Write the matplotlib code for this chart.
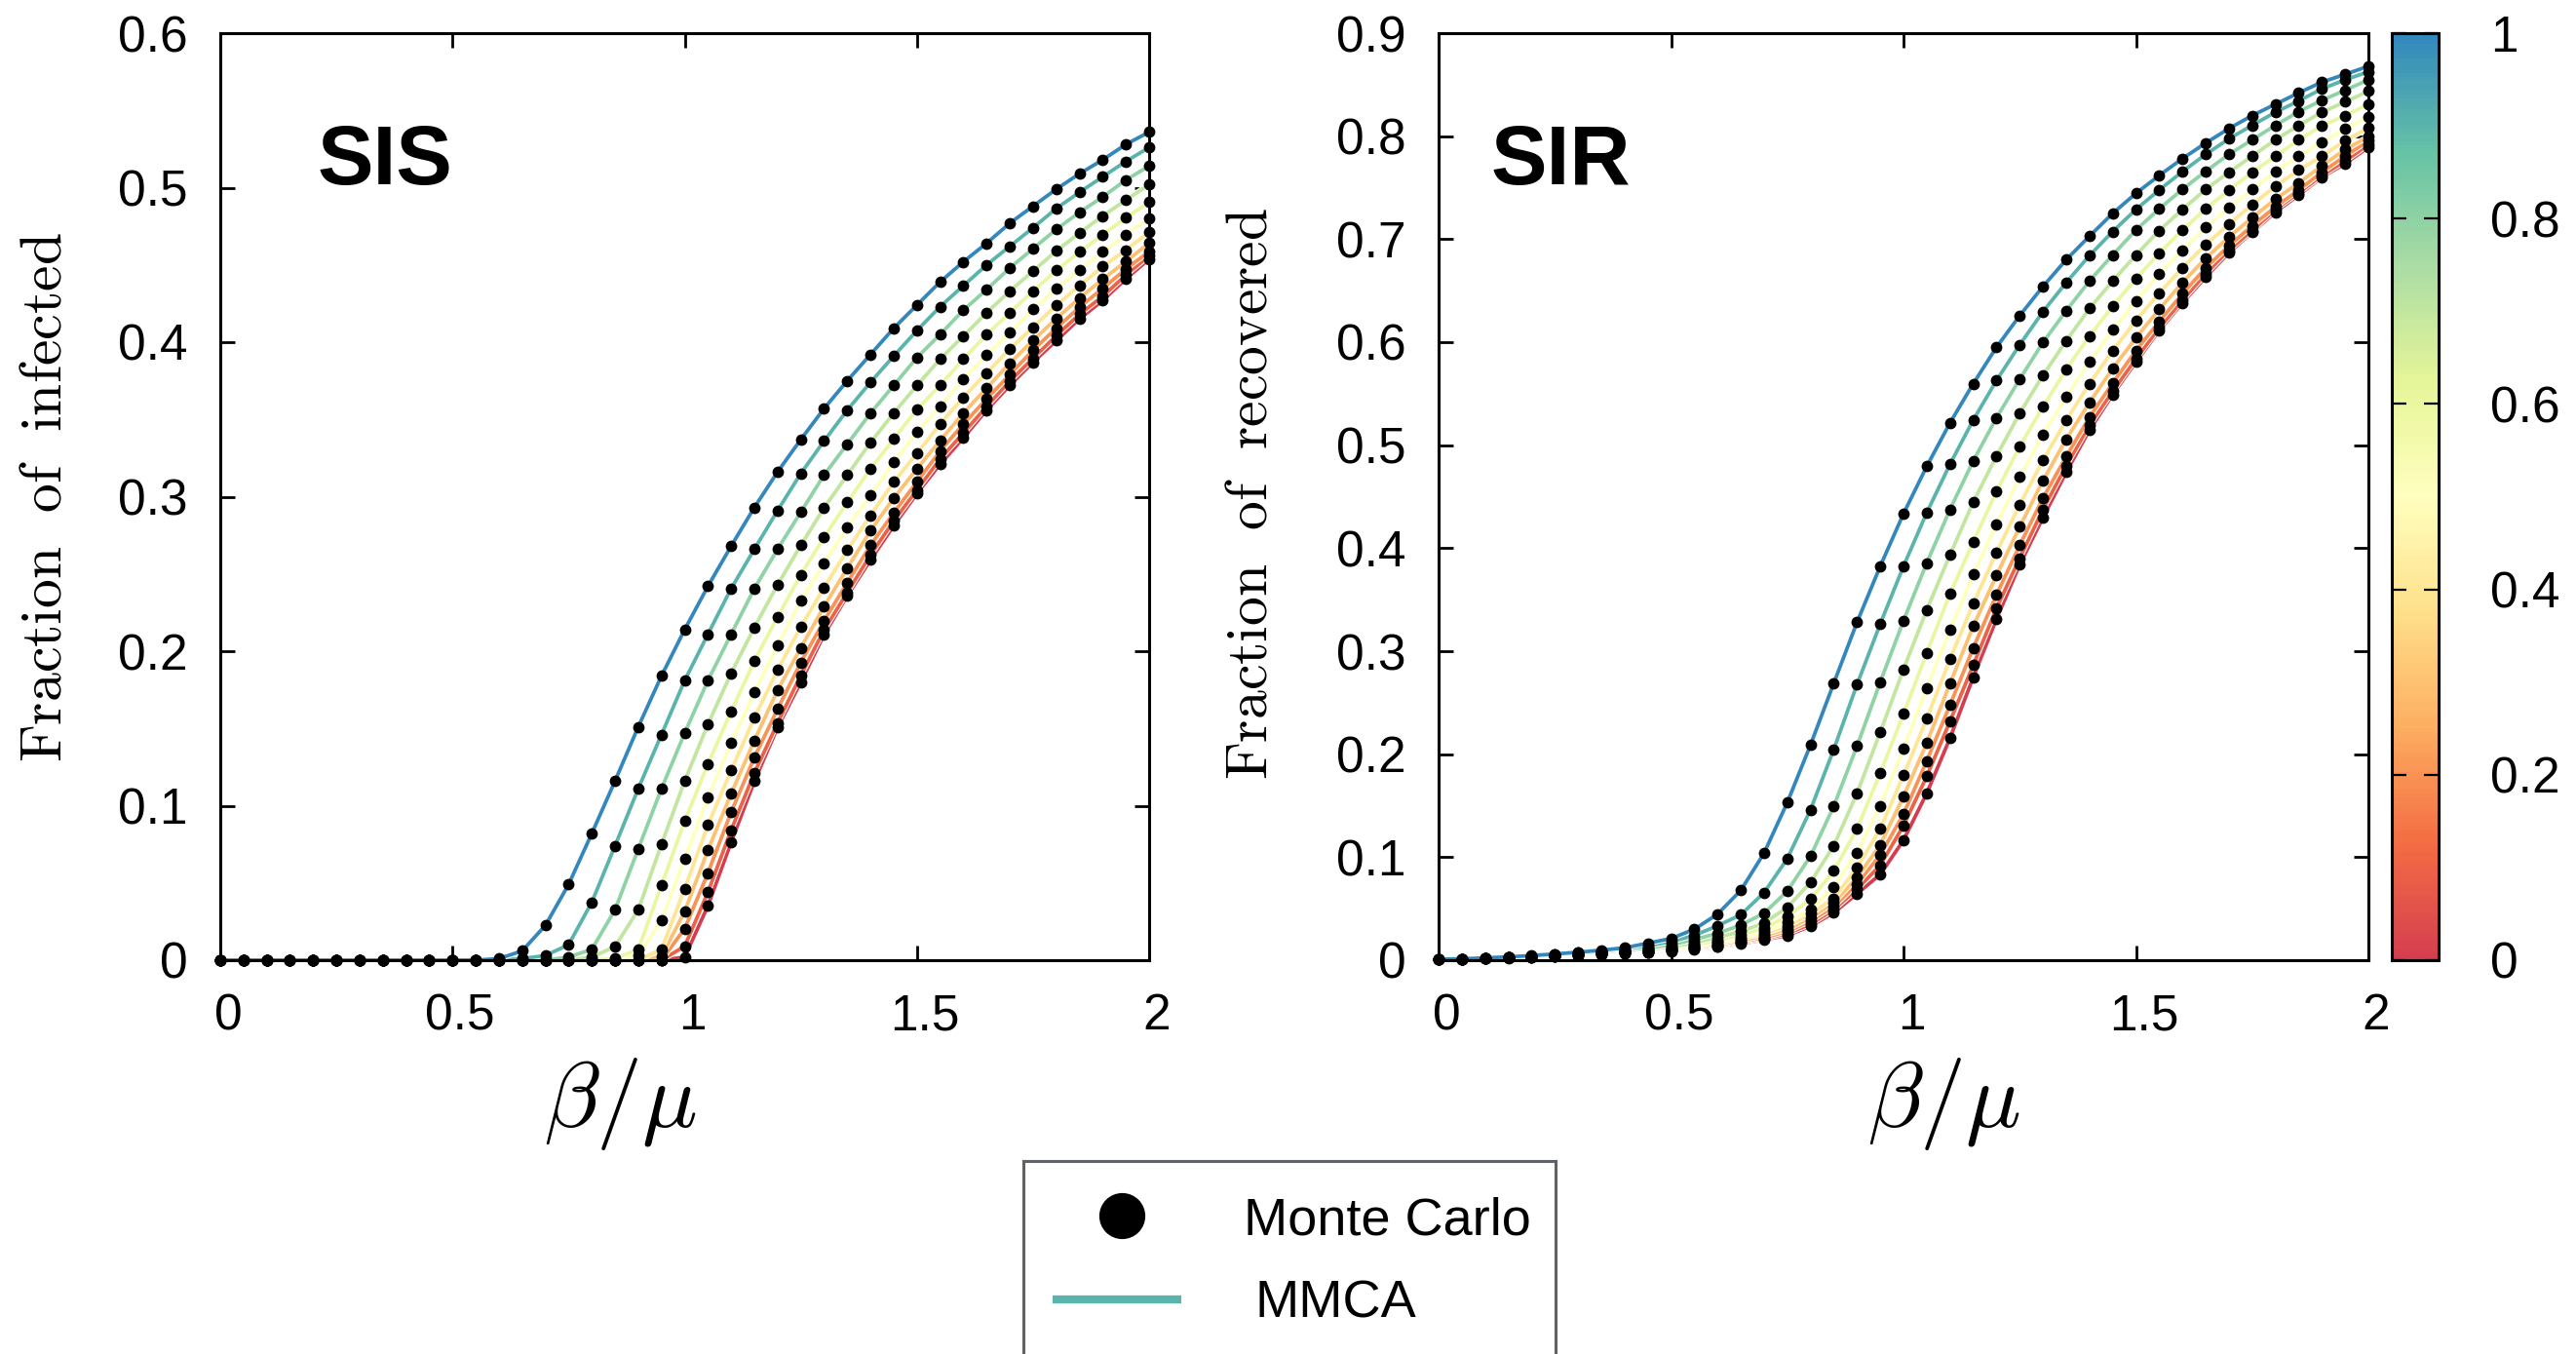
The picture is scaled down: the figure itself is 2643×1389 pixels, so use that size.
import matplotlib
matplotlib.use("Agg")
import matplotlib.pyplot as plt
import numpy as np
from matplotlib import patheffects
from matplotlib.colors import LinearSegmentedColormap, Normalize
from matplotlib.cm import ScalarMappable
from matplotlib.ticker import FormatStrFormatter
from matplotlib.transforms import ScaledTranslation


# Control parameter of every curve (colour scale)
P_VALUES = [0.0, 0.1, 0.2, 0.3, 0.4, 0.5, 0.6, 0.7, 0.8, 0.9, 1.0]

# beta / mu grid
BETA = [0.00, 0.05, 0.10, 0.15, 0.20, 0.25, 0.30, 0.35, 0.40, 0.45,
        0.50, 0.55, 0.60, 0.65, 0.70, 0.75, 0.80, 0.85, 0.90, 0.95,
        1.00, 1.05, 1.10, 1.15, 1.20, 1.25, 1.30, 1.35, 1.40, 1.45,
        1.50, 1.55, 1.60, 1.65, 1.70, 1.75, 1.80, 1.85, 1.90, 1.95, 2.00]

# --- SIS: fraction of infected --- #
SIS_00 = [0] * 20 + [0.002, 0.0352, 0.0764, 0.1158, 0.1506, 0.180, 0.2106, 0.2358, 0.259, 0.2811,
                     0.302, 0.321, 0.338, 0.356, 0.372, 0.387, 0.401, 0.415, 0.427, 0.441, 0.4537]
SIS_01 = [0] * 20 + [0.009, 0.044, 0.0842, 0.1211, 0.1535, 0.1843, 0.2137, 0.238, 0.2622, 0.2843,
                     0.3043, 0.3245, 0.3411, 0.3584, 0.3748, 0.3895, 0.4042, 0.418, 0.4296, 0.4435, 0.4559]
SIS_02 = [0] * 20 + [0.0204, 0.0564, 0.0958, 0.1312, 0.1625, 0.1927, 0.2196, 0.2443, 0.2685, 0.2895,
                     0.3095, 0.3296, 0.347, 0.3632, 0.379, 0.3948, 0.409, 0.4226, 0.4348, 0.4473, 0.4586]
SIS_03 = [0] * 19 + [0.0023, 0.0316, 0.0712, 0.1078, 0.1421, 0.1748, 0.2021, 0.2289, 0.2537, 0.278, 0.299,
                     0.318, 0.3363, 0.3541, 0.3702, 0.3864, 0.4011, 0.4152, 0.4285, 0.4407, 0.4522, 0.4642]
SIS_04 = [0] * 19 + [0.007, 0.0463, 0.0874, 0.1228, 0.1569, 0.1878, 0.2158, 0.2411, 0.2653, 0.2879, 0.3095,
                     0.328, 0.347, 0.3643, 0.3801, 0.3955, 0.4096, 0.4238, 0.4365, 0.4489, 0.4596, 0.4712]
SIS_05 = [0] * 18 + [0.003, 0.0257, 0.0657, 0.1053, 0.1404, 0.1733, 0.2037, 0.2327, 0.2569, 0.280, 0.3011,
                     0.3222, 0.3418, 0.3584, 0.3763, 0.3916, 0.4064, 0.4212, 0.4344, 0.447, 0.4584, 0.4695,
                     0.480]
SIS_06 = [0] * 17 + [0.001, 0.007, 0.0484, 0.090, 0.127, 0.161, 0.1937, 0.2222, 0.2495, 0.2737, 0.2963,
                     0.318, 0.3373, 0.3565, 0.3721, 0.389, 0.4049, 0.419, 0.4331, 0.4464, 0.4584, 0.4695,
                     0.4805, 0.4906]
SIS_07 = [0] * 16 + [0.002, 0.0088, 0.0326, 0.075, 0.116, 0.1527, 0.1857, 0.2154, 0.243, 0.2685, 0.2927,
                     0.314, 0.335, 0.354, 0.372, 0.389, 0.404, 0.419, 0.433, 0.446, 0.459, 0.4706, 0.4817,
                     0.492, 0.502]
SIS_08 = [0] * 15 + [0.002, 0.007, 0.0326, 0.072, 0.111, 0.147, 0.181, 0.211, 0.2405, 0.266, 0.290, 0.314,
                     0.334, 0.354, 0.372, 0.390, 0.405, 0.4207, 0.434, 0.448, 0.4605, 0.473, 0.484, 0.494,
                     0.505, 0.514]
SIS_09 = [0] * 13 + [0.001, 0.003, 0.010, 0.0375, 0.074, 0.111, 0.146, 0.181, 0.211, 0.2405, 0.266, 0.291,
                     0.315, 0.336, 0.356, 0.374, 0.391, 0.4075, 0.423, 0.4365, 0.450, 0.462, 0.474, 0.4865,
                     0.497, 0.507, 0.517, 0.526]
SIS_10 = [0] * 12 + [0.001, 0.006, 0.0225, 0.049, 0.082, 0.116, 0.151, 0.184, 0.214, 0.242, 0.268, 0.293,
                     0.316, 0.337, 0.357, 0.375, 0.392, 0.409, 0.424, 0.439, 0.452, 0.464, 0.477, 0.488,
                     0.499, 0.509, 0.518, 0.528, 0.536]

# --- SIR: fraction of recovered --- #
SIR_00 = [0.001, 0.0010, 0.0016, 0.0023, 0.0030, 0.0037, 0.0046, 0.0055, 0.0065, 0.0072, 0.0085, 0.0105,
          0.013, 0.016, 0.020, 0.024, 0.033, 0.046, 0.0645, 0.0832, 0.1165, 0.162, 0.2155, 0.2747, 0.3312,
          0.384, 0.4297, 0.4738, 0.5146, 0.5492, 0.5807, 0.6113, 0.6381, 0.6633, 0.6869, 0.7067, 0.7263,
          0.7428, 0.7602, 0.7734, 0.7891]
SIR_01 = [0.001, 0.0010, 0.0016, 0.0024, 0.0031, 0.0039, 0.0048, 0.0058, 0.0068, 0.0075, 0.009, 0.011,
          0.0135, 0.017, 0.021, 0.026, 0.035, 0.049, 0.069, 0.0921, 0.1306, 0.1784, 0.2319, 0.2864, 0.3416,
          0.3903, 0.4376, 0.4801, 0.5193, 0.5523, 0.5838, 0.6138, 0.6406, 0.6664, 0.6894, 0.7083, 0.7288,
          0.745, 0.7618, 0.7759, 0.7917]
SIR_02 = [0.001, 0.0010, 0.0017, 0.0024, 0.0032, 0.0040, 0.0050, 0.0060, 0.0071, 0.0080, 0.0095, 0.0115,
          0.014, 0.018, 0.022, 0.028, 0.038, 0.052, 0.074, 0.1022, 0.1417, 0.1935, 0.2477, 0.3031, 0.3547,
          0.4029, 0.4486, 0.4889, 0.5272, 0.5602, 0.5917, 0.6201, 0.6469, 0.6721, 0.6935, 0.713, 0.7313,
          0.7477, 0.765, 0.7806, 0.7955]
SIR_03 = [0.001, 0.0011, 0.0017, 0.0025, 0.0033, 0.0042, 0.0052, 0.0062, 0.0074, 0.0085, 0.010, 0.012,
          0.015, 0.019, 0.024, 0.030, 0.041, 0.056, 0.080, 0.112, 0.1589, 0.2108, 0.2685, 0.3242, 0.3736,
          0.4208, 0.4655, 0.5058, 0.5414, 0.5744, 0.6043, 0.6318, 0.6579, 0.6815, 0.702, 0.7209, 0.7388,
          0.7545, 0.7712, 0.787, 0.7995]
SIR_04 = [0.001, 0.0011, 0.0018, 0.0025, 0.0034, 0.0043, 0.0054, 0.0065, 0.0077, 0.009, 0.0105, 0.013,
          0.016, 0.021, 0.026, 0.033, 0.045, 0.060, 0.0897, 0.1275, 0.1794, 0.2345, 0.2921, 0.3462, 0.3957,
          0.4423, 0.4852, 0.5241, 0.5597, 0.5917, 0.621, 0.6475, 0.6721, 0.6947, 0.7146, 0.7335, 0.7514,
          0.7671, 0.7806, 0.7955, 0.808]
SIR_05 = [0.001, 0.0011, 0.0018, 0.0026, 0.0035, 0.0045, 0.0056, 0.0068, 0.0081, 0.0095, 0.011, 0.014,
          0.018, 0.022, 0.028, 0.037, 0.049, 0.0714, 0.1045, 0.150, 0.2052, 0.2644, 0.3205, 0.3745, 0.4234,
          0.469, 0.510, 0.547, 0.5807, 0.6122, 0.6399, 0.6664, 0.6894, 0.7114, 0.7303, 0.7483, 0.7656,
          0.7806, 0.7942, 0.8068, 0.819]
SIR_06 = [0.001, 0.0011, 0.0019, 0.0027, 0.0036, 0.0047, 0.0059, 0.0072, 0.0086, 0.010, 0.012, 0.015,
          0.019, 0.025, 0.031, 0.0425, 0.0592, 0.0866, 0.1275, 0.1816, 0.2392, 0.2981, 0.3557, 0.406, 0.4549,
          0.4986, 0.5374, 0.5735, 0.6059, 0.6349, 0.6617, 0.6863, 0.7089, 0.7294, 0.7476, 0.765, 0.7806,
          0.7964, 0.81, 0.82, 0.831]
SIR_07 = [0.001, 0.0012, 0.0019, 0.0028, 0.0038, 0.0049, 0.0062, 0.0076, 0.0091, 0.011, 0.013, 0.017,
          0.022, 0.028, 0.036, 0.0513, 0.0755, 0.1111, 0.162, 0.2213, 0.2824, 0.34, 0.3935, 0.4447, 0.4895,
          0.531, 0.5679, 0.6012, 0.6327, 0.6594, 0.6847, 0.7083, 0.7288, 0.7483, 0.765, 0.7806, 0.7964,
          0.8105, 0.8232, 0.8333, 0.8437]
SIR_08 = [0.001, 0.0012, 0.0020, 0.0029, 0.0040, 0.0052, 0.0066, 0.0082, 0.0098, 0.012, 0.015, 0.020,
          0.026, 0.034, 0.0456, 0.067, 0.101, 0.1495, 0.2078, 0.270, 0.3296, 0.3856, 0.4375, 0.4847, 0.5265,
          0.5641, 0.5997, 0.6305, 0.6594, 0.6847, 0.7089, 0.7294, 0.7483, 0.7659, 0.7823, 0.7964, 0.8105,
          0.8238, 0.8348, 0.8446, 0.8547]
SIR_09 = [0.001, 0.0012, 0.0021, 0.0030, 0.0042, 0.0055, 0.0071, 0.0089, 0.011, 0.014, 0.018, 0.024,
          0.0334, 0.0441, 0.0655, 0.0985, 0.146, 0.2046, 0.2676, 0.3265, 0.3825, 0.4344, 0.4815, 0.5244,
          0.5628, 0.5975, 0.6296, 0.6579, 0.684, 0.7074, 0.7288, 0.7477, 0.7656, 0.7823, 0.7974, 0.8105,
          0.8232, 0.8342, 0.8459, 0.8547, 0.8625]
SIR_10 = [0.001, 0.0013, 0.0022, 0.0032, 0.0045, 0.006, 0.0077, 0.0097, 0.012, 0.0165, 0.021, 0.030,
          0.0447, 0.0677, 0.1039, 0.153, 0.209, 0.2688, 0.328, 0.3825, 0.4335, 0.4794, 0.5216, 0.5597,
          0.595, 0.6258, 0.6541, 0.680, 0.7029, 0.725, 0.7445, 0.7618, 0.7782, 0.7933, 0.8074, 0.820,
          0.831, 0.842, 0.8525, 0.860, 0.8679]

SIS_CURVES = [SIS_00, SIS_01, SIS_02, SIS_03, SIS_04, SIS_05, SIS_06, SIS_07, SIS_08, SIS_09, SIS_10]
SIR_CURVES = [SIR_00, SIR_01, SIR_02, SIR_03, SIR_04, SIR_05, SIR_06, SIR_07, SIR_08, SIR_09, SIR_10]

X_TICKS = [0, 0.5, 1, 1.5, 2]
SIS_Y_TICKS = [0, 0.1, 0.2, 0.3, 0.4, 0.5, 0.6]
SIR_Y_TICKS = [0, 0.1, 0.2, 0.3, 0.4, 0.5, 0.6, 0.7, 0.8, 0.9]
CBAR_TICKS = [0, 0.2, 0.4, 0.6, 0.8, 1]

# Spectral, without its darkest ends
CMAP = LinearSegmentedColormap.from_list(
    "spectral_cut", plt.get_cmap("Spectral")(np.linspace(0.1, 0.9, 256))
)

W, H = 2643, 1389


def fig_box(left, top, right, bottom):
    # pixel box -> figure fraction rectangle
    return [left / W, 1 - bottom / H, (right - left) / W, (bottom - top) / H]


def draw_panel(fig, ax, curves, ymax, yticks, tag, tag_x):
    white_edge = [patheffects.Stroke(linewidth=4.2, foreground="white"), patheffects.Normal()]
    for p, vals in zip(P_VALUES, curves):
        ax.plot(BETA, vals, color=CMAP(p), lw=2.7, zorder=2, clip_on=False, path_effects=white_edge)
    for vals in curves:
        ax.plot(BETA, vals, "o", color="black", ms=8.5, mew=0, zorder=3, clip_on=False)

    ax.set_xlim(0, 2)
    ax.set_ylim(0, ymax)
    ax.set_xticks(X_TICKS)
    ax.set_yticks(yticks)
    ax.xaxis.set_major_formatter(FormatStrFormatter("%g"))
    ax.yaxis.set_major_formatter(FormatStrFormatter("%g"))
    ax.tick_params(direction="in", top=True, right=True, length=11, width=2,
                   labelsize=37, pad=24)
    # x tick labels sit a little to the right of their ticks in the original
    shift = ScaledTranslation(8 / 100, 0, fig.dpi_scale_trans)
    for lab in ax.get_xticklabels():
        lab.set_transform(lab.get_transform() + shift)
    for sp in ax.spines.values():
        sp.set_linewidth(2.2)
    ax.text(tag_x, 0.837, tag, transform=ax.transAxes, fontsize=62, fontweight="bold",
            va="baseline", ha="left")


def main():
    plt.rcParams["font.family"] = ["Liberation Sans", "DejaVu Sans"]
    plt.rcParams["mathtext.fontset"] = "cm"

    fig = plt.figure(figsize=(W / 100, H / 100), dpi=100)

    ax1 = fig.add_axes(fig_box(226, 34, 1179, 985))
    ax2 = fig.add_axes(fig_box(1476, 34, 2430, 985))
    cax = fig.add_axes(fig_box(2454, 34, 2502, 985))

    draw_panel(fig, ax1, SIS_CURVES, 0.6, SIS_Y_TICKS, "SIS", 0.104)
    draw_panel(fig, ax2, SIR_CURVES, 0.9, SIR_Y_TICKS, "SIR", 0.056)

    # axis labels
    fig.text(47 / W, 1 - 510 / H, r"$\mathrm{Fraction\ \ of\ \ infected}$", rotation=90,
             ha="center", va="center", fontsize=43)
    fig.text(1284 / W, 1 - 506 / H, r"$\mathrm{Fraction\ \ of\ \ recovered}$", rotation=90,
             ha="center", va="center", fontsize=43)
    fig.text(636 / W, 1 - 1133 / H, r"$\beta/\mu$", ha="center", va="center", fontsize=68)
    fig.text(1994 / W, 1 - 1133 / H, r"$\beta/\mu$", ha="center", va="center", fontsize=68)

    # colour bar
    sm = ScalarMappable(norm=Normalize(0, 1), cmap=CMAP)
    cb = fig.colorbar(sm, cax=cax, ticks=CBAR_TICKS)
    cb.outline.set_linewidth(2.2)
    cax.yaxis.set_major_formatter(FormatStrFormatter("%g"))
    cax.tick_params(direction="in", left=True, right=True, length=11, width=1.6,
                    labelsize=37, pad=38)

    # legend box, clipped by the bottom edge of the figure
    lax = fig.add_axes(fig_box(1050, 1191, 1596, 1460))
    lax.set_xlim(1050, 1596)
    lax.set_ylim(1460, 1191)
    lax.set_xticks([])
    lax.set_yticks([])
    for sp in lax.spines.values():
        sp.set_color("#5f6368")
        sp.set_linewidth(2.2)
    lax.plot([1151], [1247], "o", color="black", ms=34, mew=0)
    lax.plot([1080, 1212], [1333, 1333], color=CMAP(0.9), lw=6, solid_capstyle="butt")
    lax.text(1276, 1267, "Monte Carlo", fontsize=39, va="baseline", ha="left")
    lax.text(1288, 1352, "MMCA", fontsize=39, va="baseline", ha="left")

    fig.savefig("out.png", dpi=100)


if __name__ == "__main__":
    main()
